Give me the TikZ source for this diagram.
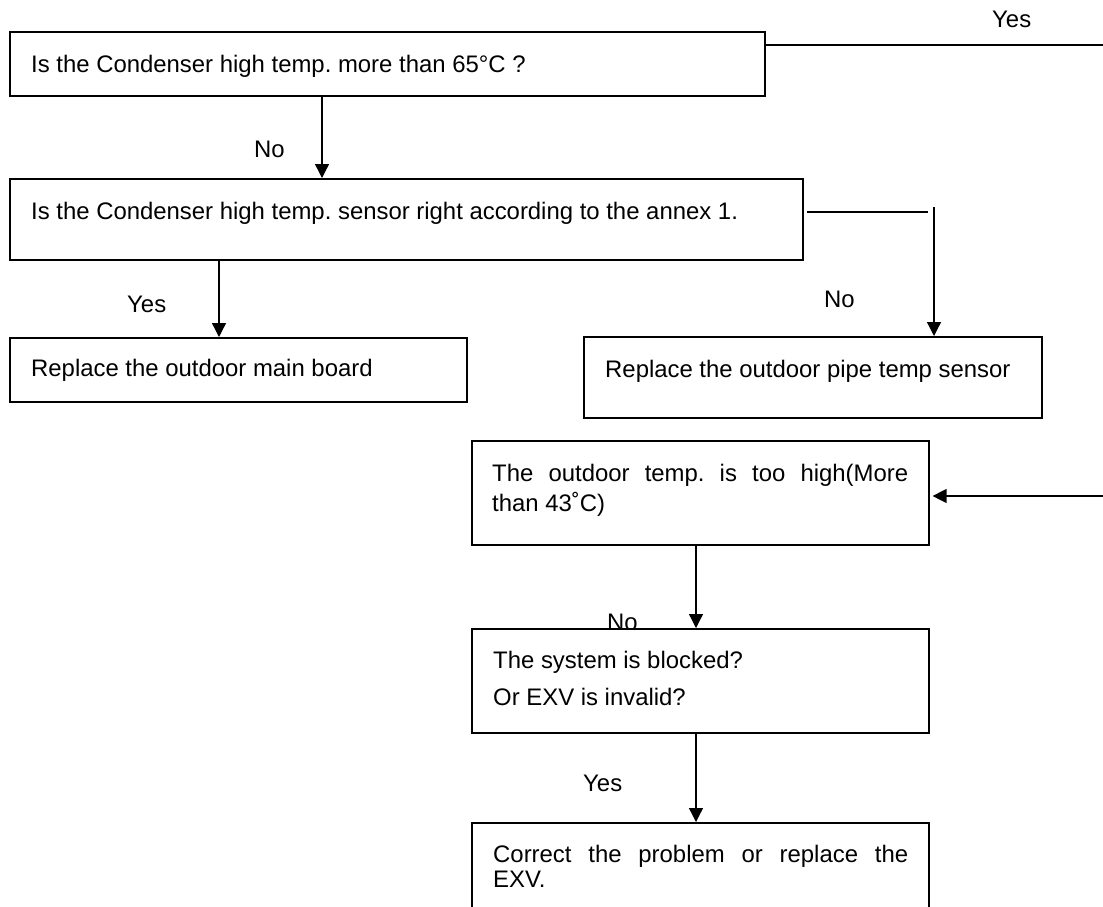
\documentclass[tikz,border=0pt]{standalone}
\usepackage{fontspec}
\setmainfont{Liberation Sans}
\usetikzlibrary{arrows.meta}
\begin{document}
\frenchspacing
\begin{tikzpicture}[x=1pt,y=-1pt,
  box/.style={draw,line width=1.6pt,fill=white,anchor=north west,inner sep=0pt},
  txt/.style={anchor=base west,inner sep=0pt,font=\fontsize{23.9}{28}\selectfont},
  conn/.style={line width=1.3pt},
  arr/.style={conn,-{Triangle[length=14pt,width=14pt]}}]
\clip (0,0) rectangle (1103,906);
\fill[white] (0,0) rectangle (1103,906);
% boxes
\node[box,minimum width=755pt,minimum height=64pt] (b1) at (9,31) {};
\node[box,minimum width=793pt,minimum height=81pt] (b2) at (9,178) {};
\node[box,minimum width=457pt,minimum height=64pt] (b3) at (9,337) {};
\node[box,minimum width=458pt,minimum height=81pt] (b4) at (583,336) {};
\node[box,minimum width=457pt,minimum height=104pt] (b5) at (471,440) {};
\node[txt] (lno3) at (607,630) {No};
\node[box,minimum width=457pt,minimum height=104pt] (b6) at (471,628) {};
\node[box,minimum width=457pt,minimum height=120pt] (b7) at (471,822) {};
% box texts
\node[txt] (t1) at (31,72) {Is the Condenser high temp. more than 65°C ?};
\node[txt] (t2) at (31,219) {Is the Condenser high temp. sensor right according to the annex 1.};
\node[txt] (t3) at (31,376) {Replace the outdoor main board};
\node[txt] (t4) at (605,377) {Replace the outdoor pipe temp sensor};
\node[txt] (t5a) at (492,481) {\makebox[416pt][s]{The outdoor temp. is too high(More}};
\node[txt] (t5b) at (492,511) {than 43˚C)};
\node[txt] (t6a) at (493,668) {The system is blocked?};
\node[txt] (t6b) at (493,705) {Or EXV is invalid?};
\node[txt] (t7a) at (493,862) {\makebox[415pt][s]{Correct the problem or replace the}};
\node[txt] (t7b) at (493,887) {EXV.};
% labels
\node[txt] (lyes1) at (992,27) {Yes};
\node[txt] (lno1) at (254,157) {No};
\node[txt] (lyes2) at (127,312) {Yes};
\node[txt] (lno2) at (824,307) {No};
\node[txt] (lyes3) at (583,791) {Yes};
% connectors
\coordinate (topend) at (1103,45);
\coordinate (rightend) at (1103,496);
\coordinate (h1) at (807,212);
\coordinate (h2) at (928,212);
\coordinate (v1) at (934,207);
\draw[conn] (b1.east |- topend) -- (topend);
\draw[arr] (322,0 |- b1.south) -- (322,0 |- b2.north);
\draw[arr] (219,0 |- b2.south) -- (219,0 |- b3.north);
\draw[conn] (h1) -- (h2);
\draw[arr] (v1) -- (v1 |- b4.north);
\draw[arr,shorten >=3pt] (rightend) -- (b5.east |- rightend);
\draw[arr] (696,0 |- b5.south) -- (696,0 |- b6.north);
\draw[arr] (696,0 |- b6.south) -- (696,0 |- b7.north);
\end{tikzpicture}
\end{document}
